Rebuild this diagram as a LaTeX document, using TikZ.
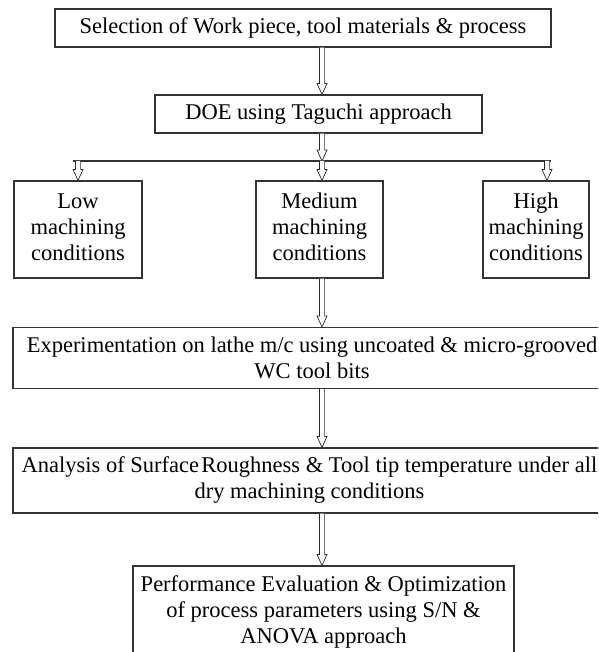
\documentclass[tikz,border=0pt]{standalone}
\usepackage{fontspec}
\setmainfont{Liberation Serif}
\usetikzlibrary{calc}
\tikzset{
  box/.style={draw=black!80, line width=1.1pt, fill=white, align=center, inner sep=0pt,
    font=\fontsize{22.5}{26}\selectfont},
  harrow/.style={draw=black!85, line width=0.7pt, fill=white, line join=miter},
  hline/.style={draw=black!80, line width=1.1pt}
}
\newcommand\hollowarrow[2]{%
  \draw[harrow] let \p1=(#1), \p2=(#2) in
    (\x1-2.6pt,\y1) -- (\x1-2.6pt,\y2+11pt) -- (\x1-5pt,\y2+11pt) -- (\x1,\y2)
    -- (\x1+5pt,\y2+11pt) -- (\x1+2.6pt,\y2+11pt) -- (\x1+2.6pt,\y1);}
\newcommand\uptext[1]{\raisebox{5.5pt}{\begin{tabular}{@{}c@{}}#1\end{tabular}}}
\begin{document}
\begin{tikzpicture}[x=1pt,y=-1pt]
\useasboundingbox (0,0) rectangle (598,652);
\clip (0,0) rectangle (598,652);
\coordinate (cx) at (322,0);
\coordinate (ha) at (547,0);
\coordinate (hl) at (73,161);
\coordinate (hr) at (551,161);

\node[box, minimum width=496pt, minimum height=38pt] (b1) at (303,28)
  {Selection of Work piece, tool materials \& process};
\node[box, minimum width=327pt, minimum height=38pt] (b2) at (318.5,114)
  {DOE using Taguchi approach};
\node[box, minimum width=128pt, minimum height=97pt] (low) at (78,229.5)
  {\uptext{Low\\machining\\conditions}};
\node[box, minimum width=127pt, minimum height=97pt] (med) at (319.5,229.5)
  {\uptext{Medium\\machining\\conditions}};
\node[box, minimum width=106pt, minimum height=97pt] (high) at (536,229.5)
  {\uptext{High\\machining\\conditions}};
\node[box, minimum width=598pt, minimum height=61pt] (b4) at (312,358)
  {Experimentation on lathe m/c using uncoated \& micro-grooved\\WC tool bits};
\node[box, minimum width=593pt, minimum height=65pt] (b5) at (309.5,480.5)
  {Analysis of Surface\hspace{0.1em}Roughness \& Tool tip temperature under all\\dry machining conditions};
\node[box, minimum width=381pt, minimum height=92pt] (b6) at (323.5,612)
  {Performance Evaluation \& Optimization\\of process parameters using S/N \&\\ANOVA approach};

\draw[hline] (hl) -- (hr);
\hollowarrow{b1.south -| cx}{b2.north -| cx}
\hollowarrow{b2.south -| cx}{hl -| cx}
\hollowarrow{hl -| low}{low.north}
\hollowarrow{hl -| cx}{med.north -| cx}
\hollowarrow{hl -| ha}{high.north -| ha}
\hollowarrow{med.south -| cx}{b4.north -| cx}
\hollowarrow{b4.south -| cx}{b5.north -| cx}
\hollowarrow{b5.south -| cx}{b6.north -| cx}
\end{tikzpicture}
\end{document}
